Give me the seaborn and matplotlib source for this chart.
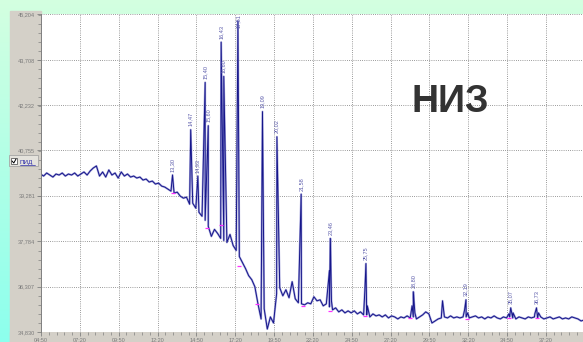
import numpy as np
import pandas as pd
import matplotlib
matplotlib.use("Agg")
import matplotlib.pyplot as plt
import matplotlib.patches as mpatches
import matplotlib.lines as mlines
import matplotlib.ticker as mticker
import seaborn as sns

# ---------------- data ----------------
base_start = 4.8      # minutes
base_step = 0.2       # minutes between baseline samples
baseline_values = [
    39.984, 39.918, 40.017, 39.951, 39.885, 39.984, 39.951, 40.017, 39.918, 39.984,
    39.951, 40.017, 39.918, 39.984, 40.050, 39.951, 40.083, 40.181, 40.247, 39.918,
    40.050, 39.885, 40.116, 39.951, 40.017, 39.853, 40.050, 39.918, 39.984, 39.885,
    39.918, 39.853, 39.885, 39.787, 39.820, 39.722, 39.754, 39.656, 39.689, 39.590,
    39.558, 39.492, 39.426, 39.360, 39.393, 39.262, 39.196, 39.229, 38.999, 39.032,
    38.868, 38.736, 38.605, 38.474, 38.277, 37.949, 38.178, 38.047, 37.883, 37.817,
    37.751, 38.014, 37.653, 37.489, 37.292, 37.095, 36.898, 36.668, 36.537, 36.307,
    35.749, 35.256, 35.585, 34.927, 35.322, 35.124, 36.077, 36.274, 36.011, 36.208,
    35.946, 36.471, 35.913, 35.782, 35.749, 35.716, 35.782, 35.749, 35.979, 35.847,
    35.880, 35.683, 35.749, 35.650, 35.552, 35.617, 35.486, 35.552, 35.453, 35.519,
    35.453, 35.519, 35.420, 35.486, 35.388, 35.388, 35.322, 35.420, 35.355, 35.388,
    35.322, 35.388, 35.289, 35.355, 35.322, 35.256, 35.322, 35.289, 35.355, 35.289,
    35.322, 35.256, 35.322, 35.388, 35.486, 35.420, 35.124, 35.190, 35.256, 35.289,
    35.322, 35.289, 35.355, 35.289, 35.322, 35.289, 35.322, 35.322, 35.289, 35.322,
    35.355, 35.289, 35.322, 35.256, 35.322, 35.289, 35.355, 35.289, 35.256, 35.322,
    35.289, 35.322, 35.289, 35.256, 35.322, 35.289, 35.256, 35.322, 35.289, 35.322,
    35.289, 35.322, 35.256, 35.289, 35.322, 35.256, 35.289, 35.322, 35.256, 35.289,
    35.256, 35.322, 35.289, 35.256, 35.190, 35.223,
]

peak_times = [13.30, 14.47, 14.93, 15.40, 15.60, 16.43, 16.60, 17.51, 19.09,
              20.02, 21.58, 23.46, 25.75, 28.80, 32.19, 35.07, 36.73]
peak_values = [39.951, 41.429, 39.918, 42.972, 41.560, 44.285, 43.169, 44.974,
               42.020, 41.199, 39.327, 37.883, 37.062, 36.143, 35.880, 35.617, 35.617]
peak_labels = ["13,30", "14,47", "14,93", "15,40", "15,60", "16,43", "16,60",
               "17,51", "19,09", "20,02", "21,58", "23,46", "25,75", "28,80",
               "32,19", "35,07", "36,73"]

extra_times = [30.68, 23.40, 23.53, 25.68, 25.84, 28.72, 28.90, 32.10, 32.30,
               34.95, 35.22, 36.62, 36.86]
extra_values = [35.847, 36.832, 35.847, 36.176, 35.683, 35.683, 35.453, 35.552,
                35.453, 35.420, 35.453, 35.420, 35.453]

mark_times = [13.30, 15.55, 16.45, 17.61, 18.71, 21.67, 23.41, 25.72, 28.56,
              32.23, 34.99, 36.73]
mark_values = [39.360, 38.211, 38.310, 36.997, 35.749, 35.683, 35.519, 35.355,
               35.289, 35.256, 35.289, 35.289]

y_tick_values = [34.830, 36.307, 37.784, 39.281, 40.755, 42.232, 43.708, 45.204]
y_tick_labels = ["34,830", "36,307", "37,784", "39,281", "40,755", "42,232",
                 "43,708", "45,204"]
x_tick_labels = ["04:50", "07:20", "09:50", "12:20", "14:50", "17:20", "19:50",
                 "22:20", "24:50", "27:20", "29:50", "32:20", "34:50", "37:20"]
title_text = "НИЗ"
channel_label = "ПИД"

# ---------------- build trace table ----------------
base_times = base_start + base_step * np.arange(len(baseline_values))
trace = pd.DataFrame({
    "time": np.concatenate([base_times, peak_times, extra_times]),
    "signal": np.concatenate([baseline_values, peak_values, extra_values]),
}).sort_values("time", kind="stable").reset_index(drop=True)

x_ticks = [int(s[:2]) + int(s[3:]) / 60 for s in x_tick_labels]

# ---------------- figure ----------------
sns.set_style("white")
plt.rcParams["font.family"] = ["Liberation Sans", "DejaVu Sans"]

W, H = 583, 342
fig = plt.figure(figsize=(W / 100, H / 100), dpi=100)


def fx(x):
    return x / W


def fy(y):
    return 1 - y / H


# gradient background
bg = fig.add_axes([0, 0, 1, 1], zorder=-3)
grad = np.linspace(0, 1, H)[:, None, None]
c_top = np.array([0.83, 1.0, 0.88])
c_bot = np.array([0.55, 1.0, 0.93])
img = c_top + (c_bot - c_top) * grad
bg.imshow(np.repeat(img, 4, axis=1), aspect="auto", extent=[0, 1, 0, 1])
bg.axis("off")

# grey control panels
grey = "#d4d0c8"
fig.add_artist(mpatches.Rectangle((fx(10), 0), fx(31), (H - 11) / H,
                                  transform=fig.transFigure, color=grey, zorder=-2))
fig.add_artist(mpatches.Rectangle((fx(10), 0), fx(W - 10), 10 / H,
                                  transform=fig.transFigure, color=grey, zorder=-2))

# main axes
ax = fig.add_axes([fx(41), 10 / H, (W - 41) / W, 318 / H], zorder=1)
ax.set_facecolor("white")

sns.lineplot(data=trace, x="time", y="signal", ax=ax, sort=False,
             estimator=None, color="#8c8cd2", linewidth=1.5, alpha=0.75)
sns.lineplot(data=trace, x="time", y="signal", ax=ax, sort=False,
             estimator=None, color="#16168a", linewidth=0.7)
sns.scatterplot(x=mark_times, y=mark_values, ax=ax, marker="_", s=10,
                color="#ff30ff", linewidth=0.9, zorder=5)

for t, v, lab in zip(peak_times, peak_values, peak_labels):
    if v > 44.6:
        ax.annotate(lab, (t, v), xytext=(0, 0), textcoords="offset points",
                    rotation=90, ha="center", va="center", fontsize=4,
                    color="#5a5aaa", zorder=6)
    else:
        ax.annotate(lab, (t, v), xytext=(0, 2.5), textcoords="offset points",
                    rotation=90, ha="center", va="bottom", fontsize=4,
                    color="#5a5aaa", zorder=6)

ax.set_xlim(x_ticks[0], x_ticks[0] + (W - 41) / 15.535)
ax.set_ylim(y_tick_values[0], y_tick_values[-1])
ax.set_xticks(x_ticks)
ax.set_xticklabels(x_tick_labels)
ax.set_yticks(y_tick_values)
ax.set_yticklabels(y_tick_labels)
ax.xaxis.set_minor_locator(mticker.AutoMinorLocator(5))
ax.yaxis.set_minor_locator(mticker.AutoMinorLocator(5))
ax.set_xlabel("")
ax.set_ylabel("")

ax.tick_params(axis="both", which="major", direction="out", length=3, width=0.6,
               color="#808080", labelsize=4, labelcolor="#7a7a7a", pad=1.2)
ax.tick_params(axis="both", which="minor", direction="out", length=2, width=0.5,
               color="#808080")
ax.tick_params(axis="x", which="both", bottom=True)
ax.tick_params(axis="y", which="both", left=True)
ax.grid(True, which="major", color="#7a7a7a", linestyle=(0, (1, 1.6)), linewidth=0.6)
for side in ["top", "right", "bottom"]:
    ax.spines[side].set_visible(False)
ax.spines["left"].set_color("#808080")
ax.spines["left"].set_linewidth(0.7)

# big title text
fig.text(fx(450), fy(112), title_text, ha="center", va="baseline", fontsize=27,
         fontweight="bold", color="#333333", zorder=10)

# channel checkbox
fig.add_artist(mpatches.Rectangle((fx(9), fy(166)), 29 / W, 11 / H,
                                  transform=fig.transFigure, facecolor="#e4e2dc",
                                  edgecolor="#9a9a9a", linewidth=0.5, zorder=2))
fig.add_artist(mpatches.Rectangle((fx(11), fy(164)), 6 / W, 6 / H,
                                  transform=fig.transFigure, facecolor="white",
                                  edgecolor="#404040", linewidth=0.5, zorder=3))
fig.add_artist(mlines.Line2D([fx(12), fx(13.8), fx(16)], [fy(161), fy(163), fy(159)],
                             transform=fig.transFigure, color="black",
                             linewidth=0.7, zorder=4))
fig.text(fx(20), fy(164), channel_label, ha="left", va="baseline", fontsize=4.5,
         color="#2a2aa8", zorder=4)
fig.add_artist(mlines.Line2D([fx(20), fx(35)], [fy(165), fy(165)],
                             transform=fig.transFigure, color="#2a2aa8",
                             linewidth=0.5, zorder=4))

fig.savefig("out.png", dpi=100)
